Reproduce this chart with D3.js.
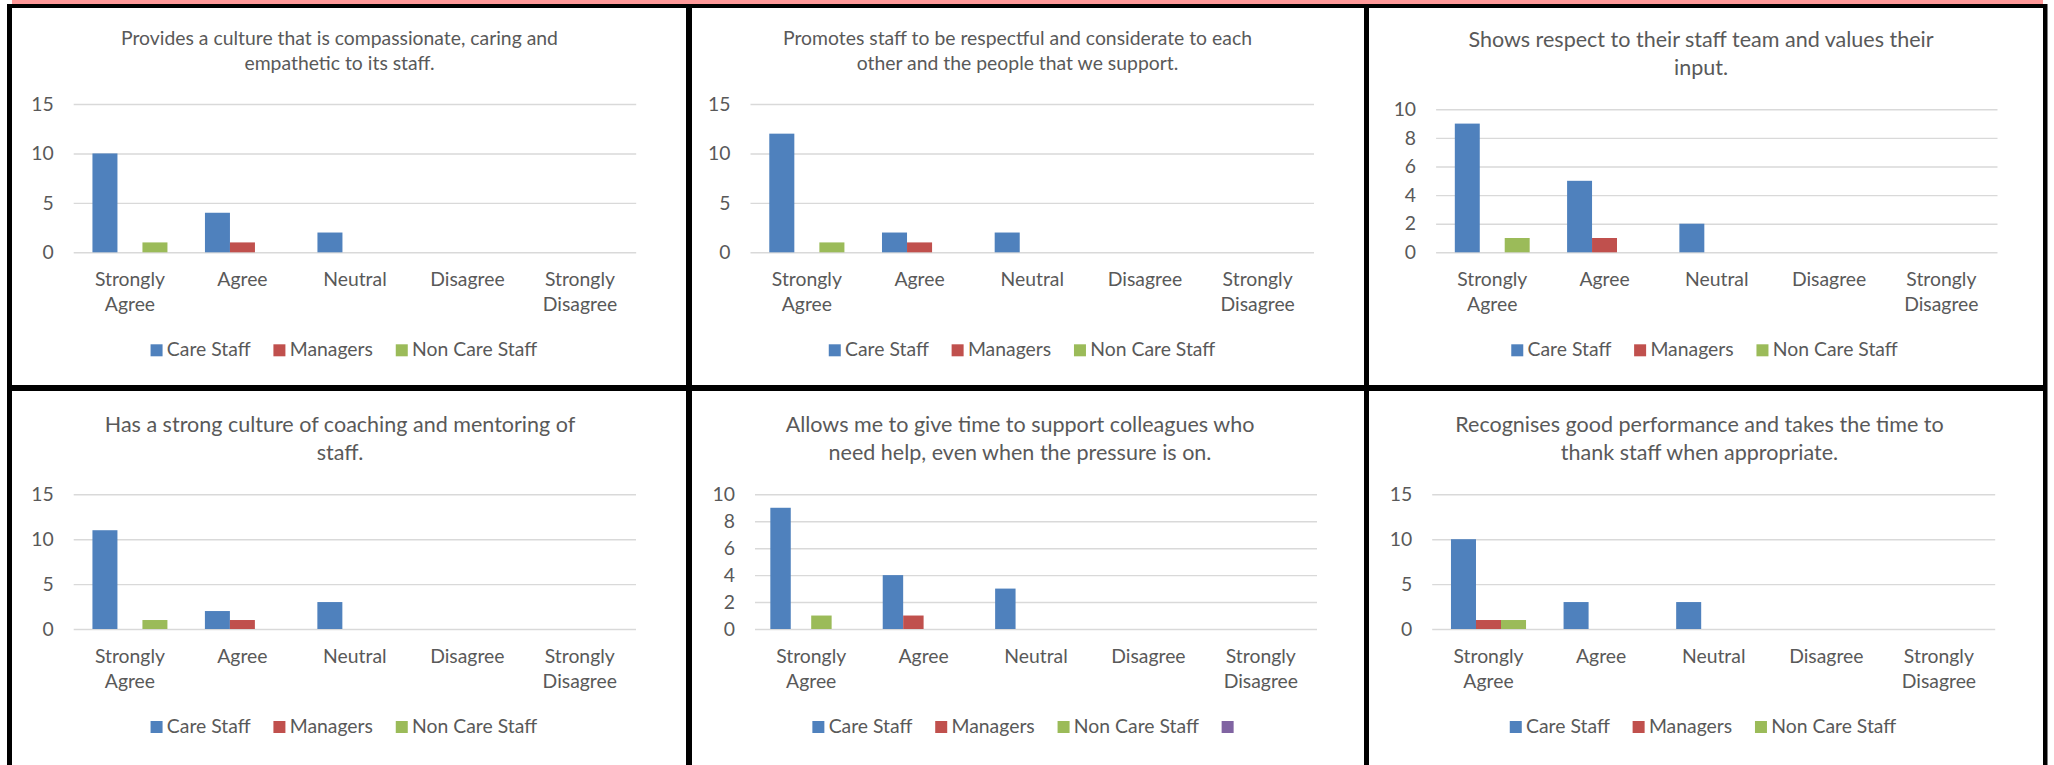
<!DOCTYPE html>
<html>
<head>
<meta charset="utf-8">
<script src="https://cdn.jsdelivr.net/npm/d3@7"></script>
<style>
  html, body { margin: 0; padding: 0; background: #ffffff; }
  svg { display: block; }
  text { font-family: Lato, "Open Sans", sans-serif; fill: #595959; }
</style>
</head>
<body>
<svg id="page" width="2054" height="765"></svg>
<script>
// ---- Survey data ----
const categories = ["Strongly Agree", "Agree", "Neutral", "Disagree", "Strongly Disagree"];
const seriesNames = ["Care Staff", "Managers", "Non Care Staff"];
const extraSeriesName = "";            // unnamed fourth series present on one chart
const seriesColors = ["#4f81bd", "#c0504d", "#9bbb59", "#8064a2"];

const chartTitles = [
  ["Provides a culture that is compassionate, caring and", "empathetic to its staff."],
  ["Promotes staff to be respectful and considerate to each", "other and the people that we support."],
  ["Shows respect to their staff team and values their", "input."],
  ["Has a strong culture of coaching and mentoring of", "staff."],
  ["Allows me to give time to support colleagues who", "need help, even when the pressure is on."],
  ["Recognises good performance and takes the time to", "thank staff when appropriate."]
];

const careStaff = [
  [10, 4, 2, 0, 0],
  [12, 2, 2, 0, 0],
  [9, 5, 2, 0, 0],
  [11, 2, 3, 0, 0],
  [9, 4, 3, 0, 0],
  [10, 3, 3, 0, 0]
];
const managers = [
  [0, 1, 0, 0, 0],
  [0, 1, 0, 0, 0],
  [0, 1, 0, 0, 0],
  [0, 1, 0, 0, 0],
  [0, 1, 0, 0, 0],
  [1, 0, 0, 0, 0]
];
const nonCareStaff = [
  [1, 0, 0, 0, 0],
  [1, 0, 0, 0, 0],
  [1, 0, 0, 0, 0],
  [1, 0, 0, 0, 0],
  [1, 0, 0, 0, 0],
  [1, 0, 0, 0, 0]
];
const extraSeries = [0, 0, 0, 0, 0];   // values of the unnamed series (chart 5)
const extraSeriesChart = 4;            // index of the chart that carries it

const yMax = [15, 15, 10, 15, 10, 15];
const yStep = [5, 5, 2, 5, 2, 5];

// ---- Layout of the six panels ----
const layout = [
  { x0: 73.7,   x1: 636.2,  yTop: 104,   yZero: 252.3, titleY: 45,    titleSize: 20.6, titleCx: 339.5,  legendCx: 343.8 },
  { x0: 750.5,  x1: 1314,   yTop: 104,   yZero: 252.3, titleY: 45,    titleSize: 20.6, titleCx: 1017.5, legendCx: 1022 },
  { x0: 1436.1, x1: 1997.5, yTop: 109.3, yZero: 252.3, titleY: 47.3,  titleSize: 22.9, titleCx: 1701,   legendCx: 1704.5 },
  { x0: 73.7,   x1: 636,    yTop: 494.3, yZero: 629,   titleY: 432.3, titleSize: 22.9, titleCx: 340,    legendCx: 343.8 },
  { x0: 755,    x1: 1317,   yTop: 494.3, yZero: 629,   titleY: 432.3, titleSize: 22.9, titleCx: 1020,   legendCx: 1023 },
  { x0: 1432.2, x1: 1995.2, yTop: 494.3, yZero: 629,   titleY: 432.3, titleSize: 22.9, titleCx: 1699.5, legendCx: 1703 }
];

const FONT_K = 0.94;          // converts nominal text size to the rendering face
const BODY = 20.6 * FONT_K;   // axis / legend text size
const TEXT = "#595959";
const GRID = "#d9d9d9";

const svg = d3.select("#page");

// ---- Table frame ----
const frame = svg.append("g");
frame.append("rect").attr("x", 12).attr("y", 0).attr("width", 2031).attr("height", 4).attr("fill", "#ff9999");
frame.append("rect").attr("x", 7).attr("y", 4).attr("width", 2040).attr("height", 4).attr("fill", "#000");
frame.append("rect").attr("x", 7).attr("y", 4).attr("width", 5).attr("height", 761).attr("fill", "#000");
frame.append("rect").attr("x", 2043).attr("y", 4).attr("width", 4.5).attr("height", 761).attr("fill", "#000");
frame.append("rect").attr("x", 686).attr("y", 4).attr("width", 6).attr("height", 761).attr("fill", "#000");
frame.append("rect").attr("x", 1364).attr("y", 4).attr("width", 5).attr("height", 761).attr("fill", "#000");
frame.append("rect").attr("x", 7).attr("y", 385).attr("width", 2040).attr("height", 6).attr("fill", "#000");

// ---- One clustered column chart per panel ----
layout.forEach((L, i) => {
  const g = svg.append("g");

  const names = seriesNames.slice();
  const values = [careStaff[i], managers[i], nonCareStaff[i]];
  if (i === extraSeriesChart) { names.push(extraSeriesName); values.push(extraSeries); }
  const keys = names.map((_, k) => k);

  const x = d3.scaleBand().domain(categories).range([L.x0, L.x1]).padding(0);
  // Excel-style 150% gap width: bars fill n/(n+1.5) of each category
  const xs = d3.scaleBand().domain(keys).range([0, x.bandwidth()]).paddingInner(0).paddingOuter(0.75);
  const y = d3.scaleLinear().domain([0, yMax[i]]).range([L.yZero, L.yTop]);

  // Title
  const tSize = L.titleSize * FONT_K;
  const title = g.append("text")
    .attr("text-anchor", "middle")
    .style("font-size", tSize + "px");
  chartTitles[i].forEach((line, j) => {
    title.append("tspan").attr("x", L.titleCx).attr("y", L.titleY + j * L.titleSize * 1.215).text(line);
  });

  // Value axis with gridlines
  const yAxis = d3.axisLeft(y)
    .tickValues(d3.range(0, yMax[i] + 0.001, yStep[i]))
    .tickSize(-(L.x1 - L.x0))
    .tickPadding(20)
    .tickFormat(d3.format("d"));
  const ya = g.append("g").attr("transform", `translate(${L.x0},0)`).call(yAxis);
  ya.select(".domain").remove();
  ya.selectAll(".tick line").attr("stroke", GRID).attr("stroke-width", 1.4);
  ya.selectAll(".tick text")
    .attr("fill", TEXT)
    .style("font-family", "Lato, 'Open Sans', sans-serif")
    .style("font-size", BODY + "px");

  // Bars
  keys.forEach(k => {
    g.append("g").selectAll("rect")
      .data(categories.map((c, ci) => ({ c, v: values[k][ci] })))
      .join("rect")
      .attr("x", d => x(d.c) + xs(k))
      .attr("width", xs.bandwidth())
      .attr("y", d => y(d.v))
      .attr("height", d => y(0) - y(d.v))
      .attr("fill", seriesColors[k]);
  });

  // Category axis (wrapped labels)
  const xAxis = d3.axisBottom(x).tickSize(0).tickPadding(0);
  const xa = g.append("g").attr("transform", `translate(0,${L.yZero})`).call(xAxis);
  xa.select(".domain").remove();
  xa.selectAll(".tick text").each(function (d) {
    const t = d3.select(this);
    t.text(null).attr("y", null).attr("dy", null)
      .attr("fill", TEXT)
      .style("font-family", "Lato, 'Open Sans', sans-serif")
      .style("font-size", BODY + "px");
    d.split(" ").forEach((w, j) => {
      t.append("tspan").attr("x", 0).attr("y", 33.7 + j * 25).text(w);
    });
  });

  // Legend, centred beneath the category labels
  const legY = L.yZero + 104;
  const sw = 12, gapIn = 4.3, gapOut = 22.8;
  const leg = g.append("g");
  const items = keys.map(k => {
    const it = leg.append("g");
    it.append("rect").attr("width", sw).attr("height", sw).attr("y", -sw).attr("fill", seriesColors[k]);
    let w = sw;
    if (names[k]) {
      const tx = it.append("text").attr("x", sw + gapIn).attr("y", 0)
        .style("font-size", BODY + "px").text(names[k]);
      w += gapIn + tx.node().getComputedTextLength();
    }
    return { it, w };
  });
  const total = d3.sum(items, d => d.w) + gapOut * (items.length - 1);
  let cx = L.legendCx - total / 2;
  items.forEach(d => {
    d.it.attr("transform", `translate(${cx},${legY})`);
    cx += d.w + gapOut;
  });
});
</script>
</body>
</html>
